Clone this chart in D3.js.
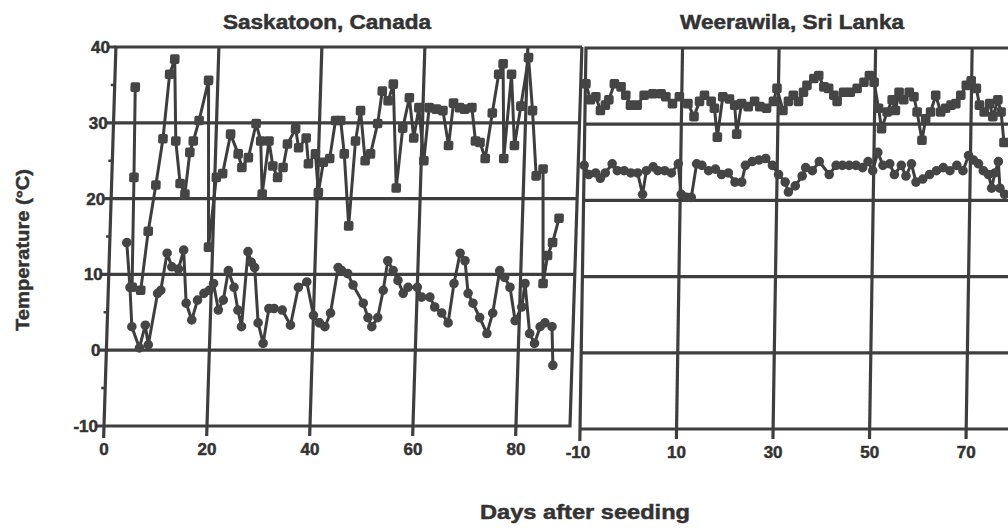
<!DOCTYPE html>
<html>
<head>
<meta charset="utf-8">
<script src="https://cdn.jsdelivr.net/npm/d3@7"></script>
<style>
  body { margin: 0; background: #fff; }
  svg { display: block; }
  text { font-family: "Liberation Sans", Arial, sans-serif; font-weight: bold; fill: #333; stroke: #333; stroke-width: 0.5px; }
</style>
</head>
<body>
<svg id="chart" width="1008" height="529"></svg>
<script>
//Saskatoon - daily max (squares) and min (circles)
var saskMaxDays = [4, 4.3, 4.6, 6.3, 7.4, 8.6, 9.7, 10.6, 11.5, 12.2, 13.3, 14.3, 15, 15.6, 16.6, 18.2, 19.2,
  20.3, 21.5, 22.8, 24.4, 25.2, 26.4, 27.7, 28.7, 29.3, 30.3, 31.2, 32.2, 33.2, 33.9, 35.4, 36.1, 37.5, 38.1,
  39.4, 40.2, 41, 42.2, 43.1, 44.1, 45, 46.3, 47.1, 47.9, 49.1, 50.1, 51.3, 52, 53.2, 54.1, 55.3, 56.2, 57.3,
  58.4, 59.2, 60.5, 61.2, 62.6, 63.9, 65.2, 65.9, 67.1, 68.1, 69.5, 70.4, 71.3, 72.4, 73.5, 74.5, 75.3, 76,
  77, 78, 79, 80.2, 81.3, 82.4, 83.7, 84.4, 85.1, 86, 87.1];
var saskMax = [34.7, 22.8, 8.3, 7.9, 15.7, 21.8, 27.9, 36.4, 38.4, 27.6, 22, 20.6, 26.1, 27.6, 30.3, 35.6, 13.6,
  22.8, 23.3, 28.5, 25.9, 24.1, 25.4, 29.9, 27.6, 20.6, 27.6, 24.3, 22.8, 24.1, 27.2, 29.2, 26.7, 28, 24.6,
  25.9, 20.8, 24.8, 25.3, 30.3, 30.3, 25.9, 16.4, 27.6, 31.6, 25, 25.9, 29.9, 34.2, 32.9, 35.1, 21.4, 29.3, 33.3,
  28, 32, 25, 32, 31.8, 31.6, 27, 32.6, 32, 31.8, 32, 27.6, 27.4, 25.3, 31.3, 36.4, 37.8, 25.3,
  36.4, 27, 32.2, 38.6, 31.6, 23, 23.9, 8.8, 12.5, 14.2, 17.4];

var saskMinDays = [3.3, 4.2, 4.8, 6.4, 7.4, 8.1, 9.6, 10.2, 11.2, 12.2, 13.5, 14.4, 15.2, 16.4, 17.4, 18.6, 19.6,
  20.4, 21.5, 22.4, 23.2, 24.4, 25.3, 26.1, 26.9, 27.6, 28.3, 29.3, 30.4, 31.3, 32.3, 33.9, 35.6, 36.9, 38.5,
  40, 41.2, 42.3, 43.3, 44.5, 45.2, 46.4, 47.5, 49.6, 50.6, 51.4, 52.5, 53.4, 54.1, 55.2, 56.2, 57.3, 58.2,
  60, 60.9, 62.5, 63.5, 64.9, 66.2, 67.1, 68.1, 69.1, 69.9, 70.9, 72.3, 73.8, 74.8, 75.9, 76.9, 78, 79.2,
  80.4, 80.9, 82.1, 83.1, 84.1, 85, 86.4, 86.8];
var saskMin = [14.2, 8.3, 3.1, 0.3, 3.3, 0.7, 7.5, 7.9, 12.8, 11, 10.7, 13.2, 6.2, 4, 6.6, 7.5, 7.9,
  8.8, 5.3, 6.6, 10.5, 8.3, 5.3, 3.1, 13, 11.6, 10.9, 3.6, 0.9, 5.5, 5.5, 5.3, 3.3, 8.3, 9,
  4.6, 3.6, 3.1, 4.9, 10.9, 10.5, 10.1, 8.6, 6.2, 4.3, 3.1, 4.3, 7.9, 11.8, 10.5, 9.2, 7.5, 8.3,
  8.3, 7, 7, 5.7, 4.9, 3.6, 8.8, 12.8, 11.8, 7.5, 6.2, 4.3, 2.2, 4.9, 10.5, 9.6, 8.3, 3.9,
  5.7, 8.8, 2.2, 0.9, 3.1, 3.6, 3.1, -2];

//Weerawila - daily max (squares) and min (circles)
var weerMaxDays = [-9.9, -8.9, -7.8, -6.8, -5.8, -5.1, -4, -2.6, -1.6, -0.6, 0.8, 2.2, 4, 5.7, 6.7, 8.1, 9.5,
  11.3, 12.6, 13.7, 14.7, 16.1, 16.8, 17.5, 18.5, 19.9, 21, 21.5, 22.4, 23.8, 25.1, 26.2, 27.6, 29, 29.7,
  31, 32.1, 33.1, 34.2, 35.2, 35.9, 37.3, 38.3, 39.4, 40.4, 41.5, 42.2, 43.5, 44.9, 46.3, 47.7, 48.8, 49.8,
  50.8, 51.5, 52.6, 53.6, 54.3, 55, 56, 57.1, 58.1, 58.8, 59.9, 60.6, 61.6, 62.6, 63.7, 64.7, 65.8, 66.8,
  67.8, 68.9, 69.9, 71, 71.7, 72.7, 73.8, 74.5, 75.5, 76.2, 76.9];
var weerMax = [35.3, 33.2, 33.6, 31.8, 32.5, 33.2, 35.3, 34.9, 33.8, 32.5, 32.5, 33.8, 34, 34, 33.6, 32.7, 33.6,
  32.7, 31, 33, 33.8, 33, 32.1, 28.3, 33.6, 33.3, 32.5, 28.7, 32.7, 32.3, 33, 32.3, 32.1, 33, 34.7,
  31.8, 33, 33.8, 33, 34.2, 35.1, 36, 36.4, 34.9, 34.7, 33.8, 33, 34.2, 34.2, 34.7, 35.5, 36.4, 35.5,
  32.1, 29.4, 31.6, 33.2, 31.8, 34.2, 33.2, 34.2, 33.6, 31.6, 27.9, 30.7, 31.6, 33.8, 31.6, 32.1, 32.5, 32.7,
  33.8, 35.1, 35.7, 34.7, 32.5, 31.6, 32.7, 31, 33.2, 31.6, 27.6];

var weerMinDays = [-10, -9, -7.6, -6.6, -5.6, -4.2, -3.1, -1.7, -0.3, 1.1, 2.2, 2.9, 4.3, 5.3, 6.7, 8.1, 9.5,
  10.2, 11.3, 12.3, 13.3, 14.4, 15.8, 17.2, 18.5, 19.9, 21.3, 22.7, 23.4, 24.8, 26.2, 27.6, 29, 30.3, 31.7,
  32.4, 33.8, 35.2, 35.9, 37.3, 38.7, 40.8, 42.2, 43.5, 44.9, 46.3, 47.7, 48.8, 49.8, 50.8, 51.9, 53.3, 54.3,
  55.7, 56.7, 57.8, 58.8, 60.2, 61.6, 63, 64.4, 65.8, 67.2, 68.5, 69.6, 70.6, 71.7, 72.7, 73.8, 74.5, 75.1,
  75.8, 76.2, 77.2];
var weerMin = [24.6, 23.4, 23.6, 22.9, 23.6, 24.8, 23.9, 23.9, 23.6, 23.6, 20.8, 23.9, 24.4, 23.9, 23.9, 23.6, 24.8,
  20.8, 20.4, 20.4, 24.8, 24.6, 23.9, 24.1, 23.4, 23.6, 22.4, 22.4, 24.6, 25.1, 25.3, 25.5, 24.6, 23.4, 22.4,
  21.1, 21.9, 23.2, 24.3, 23.9, 25.1, 23.4, 24.6, 24.6, 24.6, 24.6, 24.3, 25.1, 23.9, 26.3, 24.6, 24.8, 23.4,
  24.6, 23.2, 24.8, 22.4, 22.8, 23.4, 23.9, 24.3, 23.9, 24.6, 23.9, 25.9, 25.3, 24.8, 23.9, 23.4, 21.6, 23.6,
  25.1, 21.6, 20.8];

//Ticks
var tempTicks = [-10, 0, 10, 20, 30, 40];
var tempMinorTicks = [-5, 5, 15, 25, 35];
var saskDayTicks = [0, 20, 40, 60, 80];
var weerDayTicks = [-10, 10, 30, 50, 70];

var ink = "#3e3e3e";
var svg = d3.select("#chart");

var yTop = 47, yBottom = 426;

//Scales
var yScale = d3.scaleLinear().domain([-10, 40]).range([yBottom, yTop]);
var xSask = d3.scaleLinear().domain([0, 90.5]).range([104, 570]);
var yScaleR = d3.scaleLinear().domain([-10, 40]).range([429, 48]);
var xWeer = d3.scaleLinear().domain([-10, 100]).range([580, 1111]);

function zip(days, vals) {
    return days.map(function(d, i){ return { day: d, t: vals[i] }; });
}

function drawPanel(g, xScale, yS, dayTicks, x0, x1, maxData, minData, leftAxis) {
    var yb = yS(-10), yt = yS(40);

    //Horizontal grid
    g.selectAll(".hgrid")
     .data([0, 10, 20, 30])
     .enter()
     .append("line")
     .attr("x1", leftAxis ? x0 - 7 : x0)
     .attr("x2", x1)
     .attr("y1", function(d){ return yS(d); })
     .attr("y2", function(d){ return yS(d); })
     .style("stroke", ink)
     .style("stroke-width", 3.2);

    //Vertical grid plus ticks below
    g.selectAll(".vgrid")
     .data(dayTicks.filter(function(d){ return xScale(d) > x0 + 2 && xScale(d) < x1 - 2; }))
     .enter()
     .append("line")
     .attr("x1", function(d){ return xScale(d); })
     .attr("x2", function(d){ return xScale(d); })
     .attr("y1", yt)
     .attr("y2", yb + 10)
     .style("stroke", ink)
     .style("stroke-width", 3.2);

    //Frame
    g.append("path")
     .attr("d", "M" + x1 + "," + yt + "H" + x0 + "V" + (yb + 12) + "M" + (leftAxis ? x0 - 7 : x0) + "," + yb + "H" + x1 + (x1 < 1008 ? "V" + yt : ""))
     .style("fill", "none")
     .style("stroke", ink)
     .style("stroke-width", 3.2);

    if (leftAxis) {
        g.append("line")
         .attr("x1", x0 - 7).attr("x2", x0)
         .attr("y1", yt).attr("y2", yt)
         .style("stroke", ink).style("stroke-width", 3.2);
        g.selectAll(".minor")
         .data(tempMinorTicks)
         .enter()
         .append("line")
         .attr("x1", x0 - 4).attr("x2", x0)
         .attr("y1", function(d){ return yS(d); })
         .attr("y2", function(d){ return yS(d); })
         .style("stroke", ink).style("stroke-width", 2.5);
    }

    var line = d3.line()
                 .x(function(d){ return xScale(d.day); })
                 .y(function(d){ return yS(d.t); });

    [maxData, minData].forEach(function(data){
        g.append("path")
         .datum(data)
         .attr("d", line)
         .style("fill", "none")
         .style("stroke", ink)
         .style("stroke-width", 3)
         .style("stroke-linejoin", "round");
    });

    //Squares for max
    g.append("g")
     .selectAll("rect")
     .data(maxData)
     .enter()
     .append("rect")
     .attr("x", function(d){ return xScale(d.day) - 4.8; })
     .attr("y", function(d){ return yS(d.t) - 4.8; })
     .attr("width", 9.6)
     .attr("height", 9.6)
     .attr("rx", 1.8)
     .style("fill", "#454545");

    //Circles for min
    g.append("g")
     .selectAll("circle")
     .data(minData)
     .enter()
     .append("circle")
     .attr("cx", function(d){ return xScale(d.day); })
     .attr("cy", function(d){ return yS(d.t); })
     .attr("r", 4.8)
     .style("fill", "#454545");
}

//Left panel (scan is slightly skewed)
var gL = svg.append("g")
            .attr("transform", "translate(0," + yBottom + ") skewX(-1.8) translate(0," + (-yBottom) + ")");
drawPanel(gL, xSask, yScale, saskDayTicks, 104, 570,
          zip(saskMaxDays, saskMax), zip(saskMinDays, saskMin), true);

//Right panel
var gR = svg.append("g")
            .attr("transform", "translate(0,429) skewX(-0.9) translate(0,-429)");
drawPanel(gR, xWeer, yScaleR, weerDayTicks, 580, 1111,
          zip(weerMaxDays, weerMax), zip(weerMinDays, weerMin), false);

//Y tick labels
svg.append("g")
   .selectAll("text")
   .data(tempTicks)
   .enter()
   .append("text")
   .attr("x", function(d){ return 98 + 12 * (yBottom - yScale(d)) / 379; })
   .attr("y", function(d){ return yScale(d) + 6; })
   .attr("text-anchor", "end")
   .style("font-size", "17px")
   .text(function(d){ return d; });

//X tick labels
svg.append("g")
   .selectAll("text")
   .data(saskDayTicks)
   .enter()
   .append("text")
   .attr("x", function(d){ return xSask(d); })
   .attr("y", 455)
   .attr("text-anchor", "middle")
   .style("font-size", "17px")
   .text(function(d){ return d; });

svg.append("g")
   .selectAll("text")
   .data(weerDayTicks)
   .enter()
   .append("text")
   .attr("x", function(d){ return d === -10 ? xWeer(d) - 2 : xWeer(d); })
   .attr("y", 458)
   .attr("text-anchor", "middle")
   .style("font-size", "17px")
   .text(function(d){ return d; });

//Panel titles
svg.append("text")
   .attr("x", 327).attr("y", 29)
   .attr("text-anchor", "middle")
   .attr("textLength", 208).attr("lengthAdjust", "spacingAndGlyphs")
   .style("font-size", "20px")
   .text("Saskatoon, Canada");

svg.append("text")
   .attr("x", 792).attr("y", 29)
   .attr("text-anchor", "middle")
   .attr("textLength", 224).attr("lengthAdjust", "spacingAndGlyphs")
   .style("font-size", "20px")
   .text("Weerawila, Sri Lanka");

//Axis titles
svg.append("text")
   .attr("x", 585).attr("y", 519)
   .attr("text-anchor", "middle")
   .attr("textLength", 210).attr("lengthAdjust", "spacingAndGlyphs")
   .style("font-size", "21px")
   .text("Days after seeding");

svg.append("text")
   .attr("transform", "translate(29,250) rotate(-90)")
   .attr("text-anchor", "middle")
   .attr("textLength", 162).attr("lengthAdjust", "spacingAndGlyphs")
   .style("font-size", "19px")
   .text("Temperature (°C)");
</script>
</body>
</html>
